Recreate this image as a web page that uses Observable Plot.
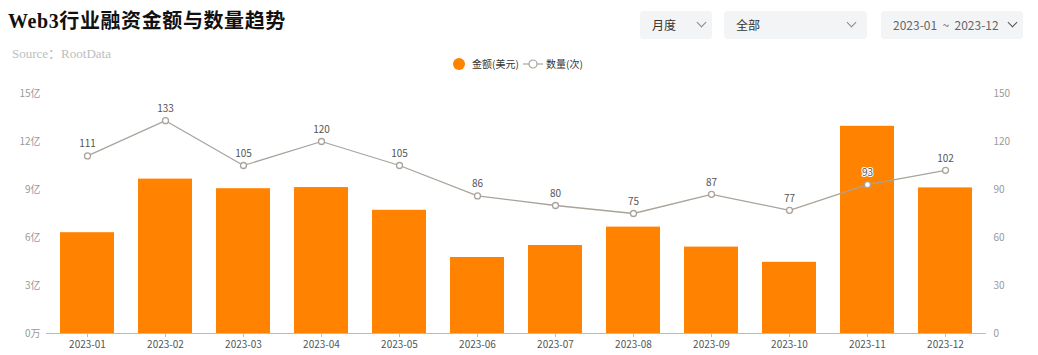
<!DOCTYPE html>
<html>
<head>
<meta charset="utf-8">
<script src="https://cdn.jsdelivr.net/npm/d3@7"></script>
<script src="https://cdn.jsdelivr.net/npm/@observablehq/plot@0.6"></script>
<style>
  html, body { margin: 0; padding: 0; background: #fff; }
  body { width: 1038px; height: 355px; position: relative; overflow: hidden; font-family: "Noto Sans CJK SC", "Noto Sans", sans-serif; }
  .title { position: absolute; left: 8px; top: 5px; font-family: "Liberation Serif", "Noto Sans CJK SC", serif; font-weight: bold; font-size: 20px; color: #111; letter-spacing: 0.6px; }
  .source { position: absolute; left: 12px; top: 43px; font-family: "Liberation Serif", "Noto Sans CJK SC", serif; font-size: 13px; color: #bdbdbd; }
  .ctl { position: absolute; top: 11px; height: 28px; background: #f3f4f6; border-radius: 4px; font-size: 12px; color: #333; }
  .ctl span { position: absolute; top: 6px; line-height: 16px; }
  .chev { position: absolute; top: 8px; width: 6px; height: 6px; border-right: 1.2px solid #888; border-bottom: 1.2px solid #888; transform: rotate(45deg); }
  .legend { position: absolute; top: 57px; font-size: 10px; color: #333; line-height: 14px; }
  #chart { position: absolute; left: 0; top: 80px; }
</style>
</head>
<body>
<div class="title">Web3行业融资金额与数量趋势</div>
<div class="source">Source：RootData</div>

<div class="ctl" style="left:640px;width:72px;"><span style="left:12px;">月度</span><div class="chev" style="left:58px;"></div></div>
<div class="ctl" style="left:724px;width:143px;"><span style="left:12px;">全部</span><div class="chev" style="left:124px;"></div></div>
<div class="ctl" style="left:881px;width:142px;color:#666;"><span style="left:12px;">2023-01 &nbsp;~ &nbsp;2023-12</span><div class="chev" style="left:128px;border-color:#555;"></div></div>

<div class="legend" style="left:453px;"><span style="display:inline-block;width:12px;height:12px;border-radius:6px;background:#ff8200;vertical-align:-2px;"></span></div>
<div class="legend" style="left:472px;">金额(美元)</div>
<svg class="legend" style="left:522px;top:58px;" width="22" height="12"><line x1="1" y1="6" x2="21" y2="6" stroke="#aaa39b" stroke-width="1.2"/><circle cx="11" cy="6" r="4" fill="#fff" stroke="#aaa39b" stroke-width="1.2"/></svg>
<div class="legend" style="left:546px;">数量(次)</div>

<div id="chart"></div>

<script>
const months = ["2023-01","2023-02","2023-03","2023-04","2023-05","2023-06","2023-07","2023-08","2023-09","2023-10","2023-11","2023-12"];
const amounts = [6.3, 9.65, 9.05, 9.12, 7.7, 4.75, 5.5, 6.65, 5.4, 4.45, 12.95, 9.1]; // 亿美元
const counts = [111, 133, 105, 120, 105, 86, 80, 75, 87, 77, 93, 102];
const leftTicks = [0, 3, 6, 9, 12, 15];
const rightTicks = [0, 30, 60, 90, 120, 150];

const rows = months.map((m, i) => ({month: m, amount: amounts[i], count: counts[i]}));

const chart = Plot.plot({
  width: 1038,
  height: 275,
  marginTop: 13,
  marginBottom: 22,
  marginLeft: 46,
  marginRight: 52,
  style: {background: "transparent", fontFamily: "'Noto Sans CJK SC', 'Noto Sans', sans-serif", fontSize: "10px"},
  x: {domain: months, paddingInner: 0.31, paddingOuter: 0.155, label: null},
  y: {domain: [0, 15], label: null},
  marks: [
    Plot.barY(rows, {x: "month", y: "amount", fill: "#ff8200"}),
    Plot.ruleY([0], {stroke: "#bbb"}),
    Plot.axisX({tickSize: 4, stroke: "#bbb", tickPadding: 3, fill: "#555", fontSize: 10}),
    Plot.axisY({ticks: leftTicks, tickSize: 0, tickPadding: 6, fill: "#999", fontSize: 10,
      tickFormat: d => d === 0 ? "0万" : d + "亿"}),
    Plot.axisY({anchor: "right", ticks: rightTicks.map(v => v / 10), tickSize: 0, tickPadding: 7, fill: "#999", fontSize: 10,
      tickFormat: d => String(Math.round(d * 10)), label: null}),
    Plot.line(rows, {x: "month", y: d => d.count / 10, stroke: "#aaa39b", strokeWidth: 1.3}),
    Plot.dot(rows, {x: "month", y: d => d.count / 10, r: 3, fill: "#fff", stroke: "#aaa39b", strokeWidth: 1.3}),
    Plot.text(rows, {x: "month", y: d => d.count / 10, text: d => String(d.count), dy: -12, fill: "#555", fontSize: 10,
      stroke: "#fff", strokeWidth: 2})
  ]
});
document.getElementById("chart").appendChild(chart);
</script>
</body>
</html>
